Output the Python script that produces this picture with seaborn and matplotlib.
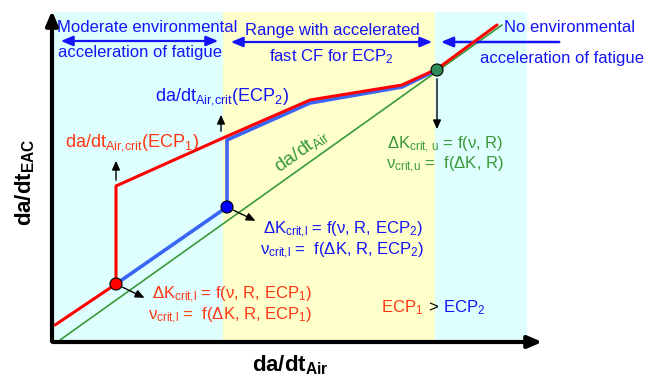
import numpy as np
import pandas as pd
import matplotlib
matplotlib.use("Agg")
import matplotlib.pyplot as plt
import seaborn as sns

sns.set_theme(style="white")
plt.rcParams['font.family'] = ['Liberation Sans', 'DejaVu Sans']
plt.rcParams['mathtext.fontset'] = 'custom'
plt.rcParams['mathtext.rm'] = 'Liberation Sans'
plt.rcParams['mathtext.it'] = 'Liberation Sans:italic'
plt.rcParams['mathtext.bf'] = 'Liberation Sans:bold'

# ---- schematic data (arbitrary units, origin at axis corner) ----
air_x = [8, 450]
air_y = [2, 317]

ecp1_x = [3, 64, 64, 171, 258, 350, 385, 445]
ecp1_y = [17, 58, 156, 204, 242, 257, 273, 317]

ecp2_x = [64, 175, 175, 258, 350, 385]
ecp2_y = [58, 135, 202, 239, 255, 272]

crit_x = [64, 175, 385]
crit_y = [58, 135, 272]
crit_names = ["ECP1", "ECP2", "upper"]

zone_edges = [2, 171, 383, 475]
zone_top = 330

C_BLUE_TXT = "#1414F5"
C_RED_TXT = "#FF3614"
C_GREEN = "#3A9A3A"
C_RED = "#FF0000"
C_BLUE = "#3A66F5"
C_CYAN = "#DFFFFF"
C_YEL = "#FFFFCC"

fig = plt.figure(figsize=(6.59, 3.82), dpi=100)
ax = fig.add_axes([0, 0, 1, 1])
ax.set_xlim(-52, 607)
ax.set_ylim(-40, 342)
ax.axis("off")

# background zones
for (a, b), col in zip(zip(zone_edges[:-1], zone_edges[1:]), [C_CYAN, C_YEL, C_CYAN]):
    ax.fill_between([a, b], 2, zone_top, color=col, lw=0, zorder=0)

# lines
sns.lineplot(x=air_x, y=air_y, ax=ax, color=C_GREEN, lw=1.2, sort=False, estimator=None, zorder=2)
ecp2_df = pd.DataFrame({"x": ecp2_x, "y": np.array(ecp2_y)})
sns.lineplot(data=ecp2_df, x="x", y="y", ax=ax, color=C_BLUE, lw=2.6, sort=False, estimator=None, zorder=3)
sns.lineplot(x=ecp1_x, y=ecp1_y, ax=ax, color=C_RED, lw=2.2, sort=False, estimator=None, zorder=4)

# critical points
sns.scatterplot(x=crit_x, y=crit_y, hue=crit_names, palette=[C_RED, "#0000FF", "#2E8B57"],
                s=75, edgecolor="black", linewidth=0.8, ax=ax, legend=False, zorder=6)

# axes arrows
ax.annotate("", xy=(0, 334), xytext=(0, -2),
            arrowprops=dict(arrowstyle="-|>,head_width=0.3,head_length=0.7", lw=3, color="black"), zorder=7)
ax.annotate("", xy=(493, 0), xytext=(-2, 0),
            arrowprops=dict(arrowstyle="-|>,head_width=0.3,head_length=0.7", lw=3, color="black"), zorder=7)

# small pointer arrows
small = dict(arrowstyle="-|>,head_width=0.2,head_length=0.45", lw=1.0, color="black")
ax.annotate("", xy=(95, 43), xytext=(68, 56), arrowprops=small, zorder=5)
ax.annotate("", xy=(206, 120), xytext=(179, 133), arrowprops=small, zorder=5)
ax.annotate("", xy=(385, 210), xytext=(385, 266), arrowprops=small, zorder=5)
ax.annotate("", xy=(64, 184), xytext=(64, 159), arrowprops=small, zorder=5)
ax.annotate("", xy=(169, 230), xytext=(169, 208), arrowprops=small, zorder=5)

# range arrows
rng = dict(arrowstyle="<|-|>,head_width=0.25,head_length=0.6", lw=1.6, color=C_BLUE_TXT)
ax.annotate("", xy=(169, 301), xytext=(6, 301), arrowprops=rng)
ax.annotate("", xy=(383, 300), xytext=(176, 300), arrowprops=rng)
ax.annotate("", xy=(386, 300), xytext=(510, 300),
            arrowprops=dict(arrowstyle="-|>,head_width=0.25,head_length=0.6", lw=1.8, color=C_BLUE_TXT))

fs = 12
ax.text(95, 315, "Moderate environmental", color=C_BLUE_TXT, fontsize=fs, ha="center", va="center")
ax.text(88, 289, "acceleration of fatigue", color=C_BLUE_TXT, fontsize=fs, ha="center", va="center")
ax.text(280, 312, "Range with accelerated", color=C_BLUE_TXT, fontsize=fs, ha="center", va="center")
ax.text(279, 285, r"fast CF for ECP$_2$", color=C_BLUE_TXT, fontsize=fs, ha="center", va="center")
ax.text(518, 315, "No environmental", color=C_BLUE_TXT, fontsize=fs, ha="center", va="center")
ax.text(510, 283, "acceleration of fatigue", color=C_BLUE_TXT, fontsize=fs, ha="center", va="center")

fs2 = 13
ax.text(103, 245, r"da/dt$_{\mathrm{Air{,}crit}}$(ECP$_2$)", color=C_BLUE_TXT, fontsize=fs2, ha="left", va="center")
ax.text(13, 199, r"da/dt$_{\mathrm{Air{,}crit}}$(ECP$_1$)", color=C_RED_TXT, fontsize=fs2, ha="left", va="center")
ax.text(249, 191, r"da/dt$_{\mathrm{Air}}$", color=C_GREEN, fontsize=14, ha="center", va="center",
        rotation=35.5, rotation_mode="anchor")

ax.text(211, 112, r"ΔK$_{\mathrm{crit{,}l}}$ = f(ν, R, ECP$_2$)", color=C_BLUE_TXT, fontsize=fs, ha="left", va="center")
ax.text(208, 91, r"ν$_{\mathrm{crit{,}l}}$ =  f(ΔK, R, ECP$_2$)", color=C_BLUE_TXT, fontsize=fs, ha="left", va="center")
ax.text(100, 47, r"ΔK$_{\mathrm{crit{,}l}}$ = f(ν, R, ECP$_1$)", color=C_RED_TXT, fontsize=fs, ha="left", va="center")
ax.text(96, 26, r"ν$_{\mathrm{crit{,}l}}$ =  f(ΔK, R, ECP$_1$)", color=C_RED_TXT, fontsize=fs, ha="left", va="center")
ax.text(335, 197, r"ΔK$_{\mathrm{crit{,}\ u}}$ = f(ν, R)", color=C_GREEN, fontsize=fs, ha="left", va="center")
ax.text(334, 177, r"ν$_{\mathrm{crit{,}u}}$ =  f(ΔK, R)", color=C_GREEN, fontsize=fs, ha="left", va="center")

ax.text(329, 34, r"ECP$_1$", color=C_RED_TXT, fontsize=fs, ha="left", va="center")
ax.text(376, 34, ">", color="black", fontsize=fs, ha="left", va="center")
ax.text(391, 34, r"ECP$_2$", color=C_BLUE_TXT, fontsize=fs, ha="left", va="center")

ax.text(-27, 160, r"da/dt$_{\mathbf{EAC}}$", color="black", fontsize=16, fontweight="bold",
        ha="center", va="center", rotation=90)
ax.text(238, -23, r"da/dt$_{\mathbf{Air}}$", color="black", fontsize=16, fontweight="bold",
        ha="center", va="center")

fig.savefig("out.png", dpi=100)
